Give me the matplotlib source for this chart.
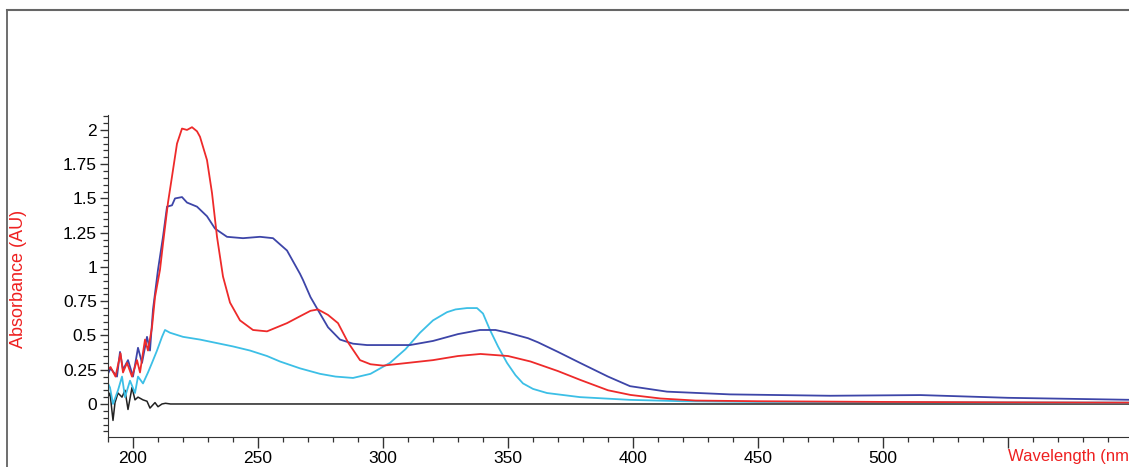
# UV spectra, scanned chromatography-style plot
import numpy as np
import matplotlib.pyplot as plt
from matplotlib.lines import Line2D
from matplotlib.ticker import MultipleLocator

plt.rcParams['font.family'] = ['Liberation Sans', 'DejaVu Sans']

# red trace
wl_red = [190, 191, 193, 195, 196, 197.6, 199.6, 201.6, 202.8, 204.8, 206, 207.6, 208.8, 210.8,
          212, 214, 215.6, 217.6, 219.6, 221.6, 223.6, 225.6, 226.8, 229.6, 231.6, 233.6, 236,
          238.8, 242.8, 248, 253.6, 261.6, 266.8, 271, 274, 278, 282, 286, 290.8, 295, 300, 310,
          320, 330, 339, 350, 359, 370, 379, 390, 399, 411, 425, 450, 500, 550, 600]
abs_red = [0.25, 0.27, 0.20, 0.37, 0.23, 0.30, 0.20, 0.32, 0.23, 0.47, 0.39, 0.56, 0.78, 0.98,
           1.17, 1.47, 1.66, 1.90, 2.01, 2.00, 2.02, 1.99, 1.95, 1.78, 1.54, 1.22, 0.93,
           0.74, 0.61, 0.54, 0.53, 0.59, 0.64, 0.68, 0.69, 0.65, 0.59, 0.45, 0.32, 0.29, 0.28, 0.30,
           0.32, 0.35, 0.365, 0.35, 0.31, 0.24, 0.175, 0.10, 0.066, 0.04, 0.025, 0.02, 0.015, 0.012, 0.01]

# dark blue trace
wl_navy = [190, 191, 193.6, 194.8, 196, 198, 200, 202, 203.6, 205.6, 206.8, 208, 210, 212, 213.6,
           215.6, 216.8, 219.6, 221.6, 225.6, 229.6, 232.8, 237.6, 244, 250.8, 256, 261.6, 266.8,
           268, 271, 274.8, 278, 282.8, 288, 293.6, 300, 310.8, 320, 330, 338.8, 345, 350, 358,
           362, 370, 378.8, 390, 398.8, 413.6, 438.8, 478.8, 515, 550, 600]
abs_navy = [0.22, 0.26, 0.20, 0.38, 0.25, 0.32, 0.20, 0.41, 0.30, 0.49, 0.39, 0.69, 0.98, 1.22, 1.44,
            1.45, 1.50, 1.51, 1.47, 1.44, 1.37, 1.28, 1.22, 1.21, 1.22, 1.21, 1.12, 0.95,
            0.905, 0.78, 0.66, 0.56, 0.47, 0.44, 0.43, 0.43, 0.43, 0.46, 0.51, 0.54, 0.54, 0.52, 0.48,
            0.45, 0.38, 0.30, 0.20, 0.13, 0.09, 0.07, 0.06, 0.065, 0.045, 0.03]

# light blue trace
wl_cyan = [190, 190.8, 192, 194, 195.6, 196.8, 198.8, 200.8, 202, 204, 206, 207.6, 209.6, 211.6,
           212.8, 214.8, 220, 226.8, 240, 246.8, 253.6, 258.8, 266.8, 274.8, 281, 288, 295, 302.8,
           309, 314.8, 320, 325.6, 329, 333.6, 337.6, 340, 342.8, 346, 349.6, 353, 356, 360, 365.6,
           378.8, 398.8, 420, 450, 600]
abs_cyan = [0.15, 0.12, 0.0, 0.10, 0.20, 0.05, 0.17, 0.08, 0.20, 0.15, 0.23, 0.30, 0.39, 0.49,
            0.54, 0.52, 0.49, 0.47, 0.42, 0.39, 0.35, 0.31, 0.26, 0.22, 0.20, 0.19, 0.22, 0.30,
            0.40, 0.52, 0.61, 0.67, 0.69, 0.70, 0.70, 0.66, 0.54, 0.42, 0.30, 0.21, 0.15, 0.11, 0.08,
            0.05, 0.03, 0.02, 0.015, 0.01]

# black (blank) trace
wl_blank = [190, 190.8, 192, 192.8, 194, 195.6, 196.8, 198, 199.6, 200.8, 202, 204, 205.6, 206.8,
            208.8, 210, 211.6, 213, 215, 600]
abs_blank = [0.05, 0.08, -0.12, 0.01, 0.08, 0.05, 0.10, -0.04, 0.12, 0.03, 0.05, 0.03, 0.02, -0.03,
             0.01, -0.02, 0.0, 0.005, 0.0, 0.0]

x_ticks = [200, 250, 300, 350, 400, 450, 500, 550]
x_labels = ['200', '250', '300', '350', '400', '450', '500', '']   # 550 sits under the axis title
y_ticks = [0, 0.25, 0.5, 0.75, 1, 1.25, 1.5, 1.75, 2]
y_labels = ['0', '0.25', '0.5', '0.75', '1', '1.25', '1.5', '1.75', '2']

fig = plt.figure(figsize=(11.29, 4.67), dpi=100)
ax = fig.add_axes([108/1129, 30/467, 1021/1129, 322/467])

ax.plot(wl_blank, abs_blank, color='#222222', lw=1.1)
ax.plot(wl_cyan, abs_cyan, color='#3cbfe6', lw=1.3)
ax.plot(wl_navy, abs_navy, color='#3d45a8', lw=1.3)
ax.plot(wl_red, abs_red, color='#ee2a2a', lw=1.3)

ax.set_xlim(190, 598.4)
ax.set_ylim(-0.241, 2.109)

for s in ['top', 'right']:
    ax.spines[s].set_visible(False)
ax.spines['left'].set_color('#333333')
ax.spines['bottom'].set_color('#333333')

ax.set_xticks(x_ticks)
ax.set_xticklabels(x_labels)
ax.xaxis.set_minor_locator(MultipleLocator(10))
ax.set_yticks(y_ticks)
ax.set_yticklabels(y_labels)
ax.yaxis.set_minor_locator(MultipleLocator(0.05))
ax.tick_params(axis='both', which='major', length=6, width=1, color='#333333', labelsize=12.5, pad=2)
ax.tick_params(axis='both', which='minor', length=3.5, width=0.9, color='#333333')
ax.tick_params(axis='x', which='major', length=8)

ax.set_ylabel('Absorbance (AU)', color='#ee2020', fontsize=13)
ax.yaxis.set_label_coords(-0.079, 0.49)
fig.text(1008/1129, 0.012, 'Wavelength (nm)', color='#ee2020', fontsize=12, ha='left', va='baseline')

# scan frame
fig.add_artist(Line2D([7/1129, 7/1129], [0, 1 - 10/467], color='#555555', lw=1.2))
fig.add_artist(Line2D([7/1129, 1], [1 - 10/467, 1 - 10/467], color='#666666', lw=1.5))

fig.savefig('out.png', dpi=100)
